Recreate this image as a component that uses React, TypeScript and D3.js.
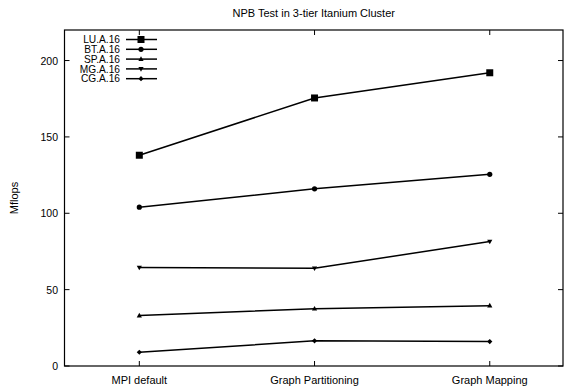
import { useEffect, useRef } from 'react'
import * as d3 from 'd3'

const W = 566
const H = 387
const FRAME = { left: 64.5, right: 563, top: 30, bottom: 366 }

const CATEGORIES = ['MPI default', 'Graph Partitioning', 'Graph Mapping']
const SERIES_NAMES = ['LU.A.16', 'BT.A.16', 'SP.A.16', 'MG.A.16', 'CG.A.16']
const LU = [138, 175.5, 192]
const BT = [104, 116, 125.5]
const SP = [33, 37.5, 39.5]
const MG = [64.5, 64, 81.5]
const CG = [9, 16.5, 16]
const Y_TICKS = [0, 50, 100, 150, 200]

const MARKERS = ['square', 'circle', 'triUp', 'triDown', 'diamond']

function markerPath(kind: string, x: number, y: number) {
  switch (kind) {
    case 'square': return `M${x - 3.5},${y - 3.5}h7v7h-7Z`
    case 'circle': return `M${x + 2.6},${y}A2.6,2.6 0 1 1 ${x - 2.6},${y}A2.6,2.6 0 1 1 ${x + 2.6},${y}Z`
    case 'triUp': return `M${x},${y - 2.8}L${x + 2.6},${y + 1.8}L${x - 2.6},${y + 1.8}Z`
    case 'triDown': return `M${x},${y + 2.8}L${x + 2.6},${y - 1.8}L${x - 2.6},${y - 1.8}Z`
    default: return `M${x},${y - 2.6}L${x + 2.6},${y}L${x},${y + 2.6}L${x - 2.6},${y}Z`
  }
}

export default function App() {
  const svgRef = useRef<SVGSVGElement>(null)

  useEffect(() => {
    const svg = d3.select(svgRef.current)
    svg.selectAll('*').remove()
    const font = 'Liberation Sans, Arial, sans-serif'
    const fs = 11

    const x = d3.scaleLinear().domain([-0.427, 2.418]).range([FRAME.left, FRAME.right])
    const y = d3.scaleLinear().domain([0, 220]).range([FRAME.bottom, FRAME.top])

    // title
    svg.append('text').attr('x', (FRAME.left + FRAME.right) / 2).attr('y', 17)
      .attr('text-anchor', 'middle').attr('font-size', fs).attr('font-family', font)
      .text('NPB Test in 3-tier Itanium Cluster')

    // y label
    svg.append('text').attr('transform', `translate(18,${(FRAME.top + FRAME.bottom) / 2}) rotate(-90)`)
      .attr('text-anchor', 'middle').attr('font-size', fs).attr('font-family', font)
      .text('Mflops')

    // ticks
    Y_TICKS.forEach(t => {
      const yy = y(t)
      svg.append('line').attr('x1', FRAME.left).attr('x2', FRAME.left + 5).attr('y1', yy).attr('y2', yy)
        .attr('stroke', '#000')
      svg.append('line').attr('x1', FRAME.right).attr('x2', FRAME.right - 5).attr('y1', yy).attr('y2', yy)
        .attr('stroke', '#000')
      svg.append('text').attr('x', FRAME.left - 6.5).attr('y', yy + 4).attr('text-anchor', 'end')
        .attr('font-size', 10.5).attr('font-family', font).text(t)
    })
    CATEGORIES.forEach((c, i) => {
      const xx = x(i)
      svg.append('line').attr('x1', xx).attr('x2', xx).attr('y1', FRAME.bottom).attr('y2', FRAME.bottom - 5)
        .attr('stroke', '#000')
      svg.append('line').attr('x1', xx).attr('x2', xx).attr('y1', FRAME.top).attr('y2', FRAME.top + 5)
        .attr('stroke', '#000')
      svg.append('text').attr('x', xx).attr('y', FRAME.bottom + 18).attr('text-anchor', 'middle')
        .attr('font-size', fs).attr('font-family', font).text(c)
    })

    // frame
    svg.append('rect').attr('x', FRAME.left).attr('y', FRAME.top)
      .attr('width', FRAME.right - FRAME.left).attr('height', FRAME.bottom - FRAME.top)
      .attr('fill', 'none').attr('stroke', '#000').attr('stroke-width', 1.2)

    const allSeries = [LU, BT, SP, MG, CG]
    const line = d3.line<number>().x((_, i) => x(i)).y(d => y(d))

    allSeries.forEach((vals, s) => {
      svg.append('path').datum(vals).attr('d', line)
        .attr('fill', 'none').attr('stroke', '#000').attr('stroke-width', 1.5)
      vals.forEach((v, i) => {
        svg.append('path').attr('d', markerPath(MARKERS[s], x(i), y(v))).attr('fill', '#000')
      })
    })

    // legend
    SERIES_NAMES.forEach((name, s) => {
      const ly = 39.5 + s * 9.8
      svg.append('text').attr('x', 120).attr('y', ly + 3.6).attr('text-anchor', 'end')
        .attr('font-size', 10.2).attr('font-family', font).text(name)
      svg.append('line').attr('x1', 126).attr('x2', 157).attr('y1', ly).attr('y2', ly)
        .attr('stroke', '#000').attr('stroke-width', 1.5)
      svg.append('path').attr('d', markerPath(MARKERS[s], 141, ly)).attr('fill', '#000')
    })
  }, [])

  return (
    <div style={{ position: 'absolute', left: 0, top: 0 }}>
      <svg ref={svgRef} width={W} height={H} style={{ display: 'block', background: '#fff' }} />
    </div>
  )
}
